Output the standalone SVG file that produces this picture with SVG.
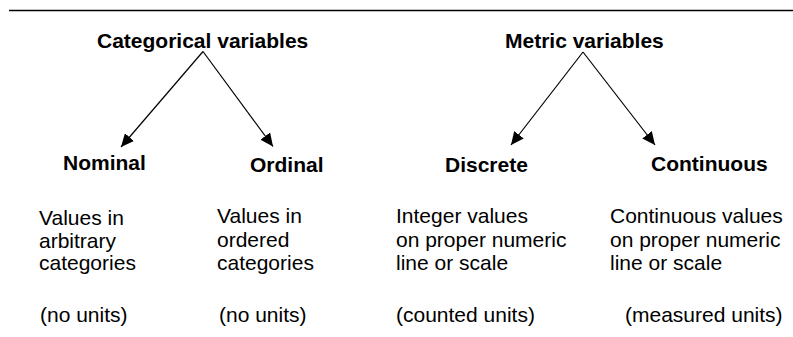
<svg xmlns="http://www.w3.org/2000/svg" width="793" height="337" viewBox="0 0 793 337">
  <style>
    .head { font-family: "Liberation Sans", Arial, sans-serif; font-weight: bold; font-size: 21px; fill: #000; }
    .body { font-family: "Liberation Sans", Arial, sans-serif; font-size: 21px; fill: #000; }
    .edge { stroke: #000; stroke-width: 1.2; fill: none; marker-end: url(#arrow); }
  </style>
  <defs>
    <marker id="arrow" markerUnits="userSpaceOnUse" markerWidth="14" markerHeight="12" refX="13" refY="6" orient="auto">
      <path d="M0,0 L13,6 L0,12 z" fill="#000"/>
    </marker>
  </defs>
  <rect width="793" height="337" fill="#fff"/>

  <!-- top rule -->
  <line x1="9" y1="10.5" x2="793" y2="10.5" stroke="#000" stroke-width="1.3"/>

  <g id="categorical">
    <text class="head" x="97" y="48">Categorical variables</text>
  </g>
  <g id="metric">
    <text class="head" x="505" y="48">Metric variables</text>
  </g>

  <g id="nominal">
    <text class="head" x="63" y="170">Nominal</text>
    <text class="body" x="39" y="225">Values in</text>
    <text class="body" x="39" y="247.5">arbitrary</text>
    <text class="body" x="39" y="270">categories</text>
    <text class="body" x="40" y="321.5">(no units)</text>
  </g>
  <g id="ordinal">
    <text class="head" x="250" y="172">Ordinal</text>
    <text class="body" x="217" y="222.5">Values in</text>
    <text class="body" x="217" y="246.5">ordered</text>
    <text class="body" x="217" y="270">categories</text>
    <text class="body" x="219" y="321.5">(no units)</text>
  </g>
  <g id="discrete">
    <text class="head" x="445" y="172">Discrete</text>
    <text class="body" x="396" y="222.5">Integer values</text>
    <text class="body" x="396" y="246.5">on proper numeric</text>
    <text class="body" x="396" y="270">line or scale</text>
    <text class="body" x="396" y="321.5">(counted units)</text>
  </g>
  <g id="continuous">
    <text class="head" x="651" y="171">Continuous</text>
    <text class="body" x="610" y="222.5">Continuous values</text>
    <text class="body" x="610" y="246.5">on proper numeric</text>
    <text class="body" x="610" y="270">line or scale</text>
    <text class="body" x="625" y="321.5">(measured units)</text>
  </g>

  <g id="connectors">
    <line class="edge" x1="203" y1="51.5" x2="121" y2="147"/>
    <line class="edge" x1="203" y1="51.5" x2="273" y2="146.5"/>
    <line class="edge" x1="583" y1="52" x2="511" y2="145"/>
    <line class="edge" x1="583" y1="52" x2="655" y2="145"/>
  </g>
</svg>
